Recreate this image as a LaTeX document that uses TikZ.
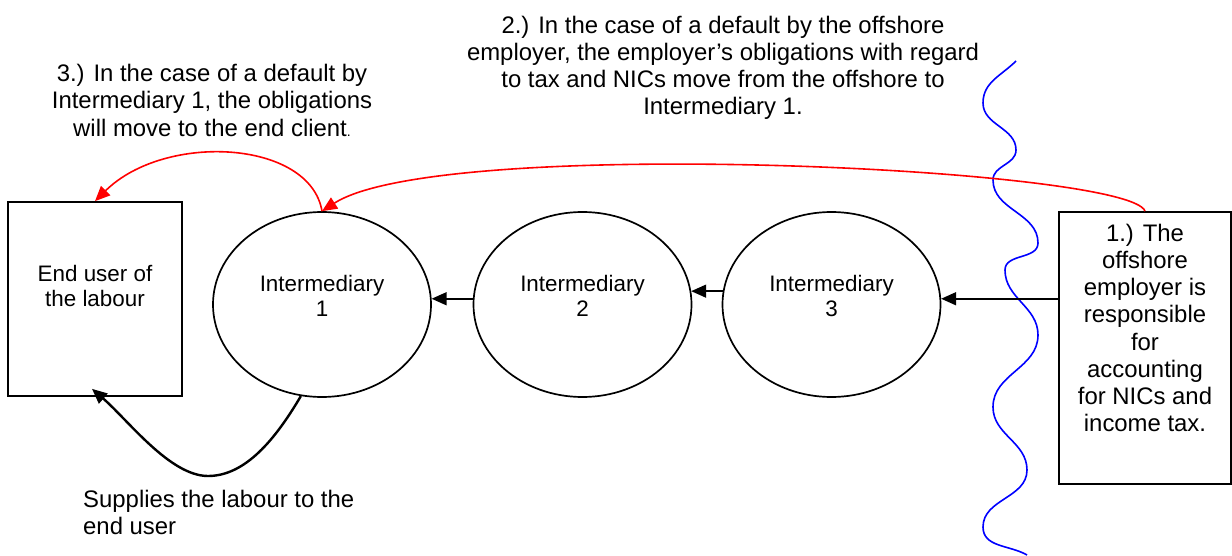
\documentclass[tikz,border=0pt]{standalone}
\usepackage{fontspec}
\setmainfont{Liberation Sans}
\usetikzlibrary{arrows.meta,shapes.geometric,calc}
\begin{document}
\begin{tikzpicture}[x=1pt,y=-1pt,
  big/.style={font=\fontsize{23.9}{27.2}\selectfont, align=center, inner sep=0pt},
  small/.style={font=\fontsize{22.4}{25}\selectfont, align=center, inner sep=0pt},
  ell/.style={draw, ellipse, line width=1.7pt, minimum width=218pt, minimum height=185pt, inner sep=0pt},
  boxs/.style={draw, rectangle, line width=1.7pt, inner sep=0pt},
  arr/.style={line width=1.6pt, -{Triangle[length=15pt,width=13pt]}},
  redarr/.style={red, line width=1.6pt, -{Triangle[length=15pt,width=13pt]}},
  wave/.style={blue, line width=1.6pt}
]
\useasboundingbox (0,0) rectangle (1232,556);

% boxes
\node[boxs, minimum width=174pt, minimum height=194pt,
  label={[small, yshift=13pt]center:End user of\\the labour}] (eu) at (95,299) {};
\node[boxs, minimum width=172pt, minimum height=272pt,
  label={[big, yshift=20pt]center:1.) The\\offshore\\employer is\\responsible\\for\\accounting\\for NICs and\\income tax.}] (emp) at (1145,348) {};

% ellipses
\node[ell, label={[small, yshift=8.5pt]center:Intermediary\\1}] (i1) at (322,304.5) {};
\node[ell, label={[small, yshift=8.5pt]center:Intermediary\\2}] (i2) at (582.5,304.5) {};
\node[ell, label={[small, yshift=8.5pt]center:Intermediary\\3}] (i3) at (831.5,304.5) {};

% texts
\node[big] (t2) at (723,67.8) {2.) In the case of a default by the offshore\\employer, the employer’s obligations with regard\\to tax and NICs move from the offshore to\\Intermediary 1.};
\node[big] (t3) at (212,100.3) {3.) In the case of a default by\\Intermediary 1, the obligations\\will move to the end client{\fontsize{14}{14}\selectfont.}};
\node[big, anchor=west, align=left] (t4) at (83,512.8) {Supplies the labour to the\\end user};

% wavy boundary
\draw[wave] (1016,61) to[out=-135,in=90] (983,103) to[out=-90,in=90] (1016,150)
  to[out=-90,in=90] (993,180) to[out=-90,in=90] (1038,243) to[out=-90,in=90] (1005,270)
  to[out=-90,in=90] (1038,335) to[out=-90,in=90] (993,407) to[out=-90,in=90] (1027,470)
  to[out=-90,in=90] (983,527) to[out=-90,in=150] (1027,555);

% chain arrows
\draw[arr] (emp.west |- i3.3) -- (i3.3);
\draw[arr] (i3.173) -- (i2.7);
\draw[arr] (i2.177) -- (i1.3);

% red arrows
\draw[redarr] (emp.north) .. controls (1130,168) and (440,135) .. (i1.north);
\draw[redarr] (i1.north) .. controls (310,140) and (165,132) .. (eu.north);

% supplies arrow
\draw[arr, line width=2.4pt] (i1.257) .. controls (275,440) and (245,476) .. (208,476)
  .. controls (170,476) and (128,420) .. ($(eu.south)+(-3,-8)$);
\end{tikzpicture}
\end{document}
